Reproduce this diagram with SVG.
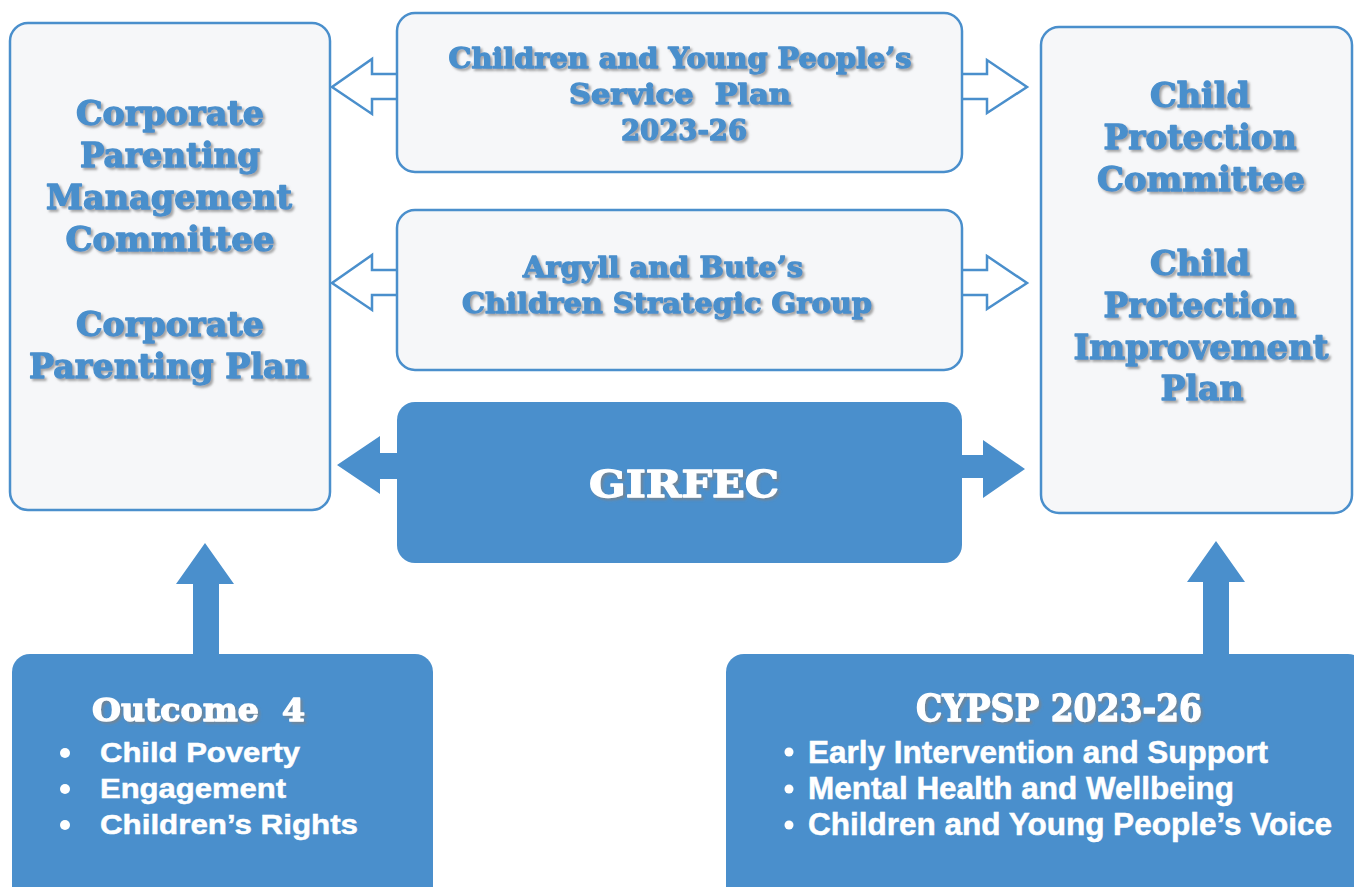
<svg xmlns="http://www.w3.org/2000/svg" width="1354" height="887" viewBox="0 0 1354 887">
<defs>
<filter id="sh" x="-10%" y="-30%" width="120%" height="160%">
<feDropShadow dx="2.2" dy="2.2" stdDeviation="0.8" flood-color="#808080" flood-opacity="0.7"/>
</filter>
<style>
.box{fill:#f6f7f9;stroke:#4a8fcc;stroke-width:2.5}
.fbox{fill:#4a8fcc}
.hol{fill:#ffffff;stroke:#4a8fcc;stroke-width:2.5;stroke-linejoin:miter}
.sol{fill:#4a8fcc}
.t{font-family:"DejaVu Serif","Liberation Serif",serif;font-weight:bold;fill:#4a8fcc;stroke:#4a8fcc;stroke-width:1.3;stroke-linejoin:round;text-anchor:middle;filter:url(#sh)}
.tw{font-family:"DejaVu Serif","Liberation Serif",serif;font-weight:bold;fill:#ffffff;stroke:#ffffff;stroke-width:1.3;stroke-linejoin:round;filter:url(#sh)}
.b{font-family:"Liberation Sans",Arial,sans-serif;font-weight:bold;fill:#ffffff;stroke:#ffffff;stroke-width:0.5}
.dot{fill:#ffffff}
</style>
</defs>
<rect width="1354" height="887" fill="#ffffff"/>

<g id="connectors">
<path class="hol" d="M397,74 L372,74 L372,59 L332,87 L372,114 L372,99 L397,99"/>
<path class="hol" d="M962,74 L987,74 L987,60 L1027,87 L987,113 L987,99 L962,99"/>
<path class="hol" d="M397,270 L372,270 L372,255 L332,283 L372,310 L372,295 L397,295"/>
<path class="hol" d="M962,270 L987,270 L987,256 L1027,283 L987,309 L987,295 L962,295"/>
<polygon class="sol" points="400,453 380,453 380,436 337,465 380,494 380,479 400,479"/>
<polygon class="sol" points="960,455 983,455 983,440 1025,469 983,498 983,478 960,478"/>
<polygon class="sol" points="193,656 193,584 176,584 205,543 234,584 219,584 219,656"/>
<polygon class="sol" points="1203,656 1203,582 1187,582 1216,541 1245,582 1229,582 1229,656"/>
</g>

<g id="corporate-parenting">
<rect class="box" x="10" y="23" width="320" height="487" rx="18"/>
<text class="t" font-size="34" x="170" y="125" textLength="188" lengthAdjust="spacingAndGlyphs">Corporate</text>
<text class="t" font-size="34" x="170" y="167" textLength="180" lengthAdjust="spacingAndGlyphs">Parenting</text>
<text class="t" font-size="34" x="169" y="209" textLength="246" lengthAdjust="spacingAndGlyphs">Management</text>
<text class="t" font-size="34" x="170" y="251" textLength="209" lengthAdjust="spacingAndGlyphs">Committee</text>
<text class="t" font-size="34" x="170" y="336" textLength="188" lengthAdjust="spacingAndGlyphs">Corporate</text>
<text class="t" font-size="34" x="169" y="378" textLength="280" lengthAdjust="spacingAndGlyphs">Parenting Plan</text>
</g>

<g id="cyp-service-plan">
<rect class="box" x="397" y="13" width="565" height="159" rx="18"/>
<text class="t" font-size="27" x="680" y="68" textLength="463" lengthAdjust="spacingAndGlyphs">Children and Young People’s</text>
<text class="t" font-size="27" x="680" y="104" textLength="222" lengthAdjust="spacingAndGlyphs" xml:space="preserve">Service  Plan</text>
<text class="t" font-size="27" x="684" y="140" textLength="126" lengthAdjust="spacingAndGlyphs">2023-26</text>
</g>

<g id="children-strategic-group">
<rect class="box" x="397" y="210" width="565" height="160" rx="18"/>
<text class="t" font-size="28" x="663" y="277" textLength="280" lengthAdjust="spacingAndGlyphs">Argyll and Bute’s</text>
<text class="t" font-size="28" x="667" y="313" textLength="410" lengthAdjust="spacingAndGlyphs">Children Strategic Group</text>
</g>

<g id="girfec">
<rect class="fbox" x="397" y="402" width="565" height="161" rx="18"/>
<text class="tw" font-size="38" x="684" y="497" text-anchor="middle" textLength="190" lengthAdjust="spacingAndGlyphs">GIRFEC</text>
</g>

<g id="child-protection">
<rect class="box" x="1041" y="27" width="311" height="486" rx="18"/>
<text class="t" font-size="34" x="1200" y="107" textLength="100" lengthAdjust="spacingAndGlyphs">Child</text>
<text class="t" font-size="34" x="1200" y="149" textLength="193" lengthAdjust="spacingAndGlyphs">Protection</text>
<text class="t" font-size="34" x="1201" y="191" textLength="208" lengthAdjust="spacingAndGlyphs">Committee</text>
<text class="t" font-size="34" x="1200" y="275" textLength="100" lengthAdjust="spacingAndGlyphs">Child</text>
<text class="t" font-size="34" x="1200" y="317" textLength="193" lengthAdjust="spacingAndGlyphs">Protection</text>
<text class="t" font-size="34" x="1201" y="359" textLength="255" lengthAdjust="spacingAndGlyphs">Improvement</text>
<text class="t" font-size="34" x="1202" y="400" textLength="83" lengthAdjust="spacingAndGlyphs">Plan</text>
</g>

<g id="outcome-4">
<rect class="fbox" x="12" y="654" width="421" height="250" rx="18"/>
<text class="tw" font-size="32" x="92" y="721" textLength="213" lengthAdjust="spacingAndGlyphs" xml:space="preserve">Outcome  4</text>
<circle class="dot" cx="65" cy="753" r="5"/>
<text class="b" font-size="28" x="100" y="762" textLength="200" lengthAdjust="spacingAndGlyphs">Child Poverty</text>
<circle class="dot" cx="65" cy="789" r="5"/>
<text class="b" font-size="28" x="100" y="798" textLength="186" lengthAdjust="spacingAndGlyphs">Engagement</text>
<circle class="dot" cx="65" cy="825" r="5"/>
<text class="b" font-size="28" x="100" y="834" textLength="258" lengthAdjust="spacingAndGlyphs">Children’s Rights</text>
</g>

<g id="cypsp">
<rect class="fbox" x="726" y="654" width="640" height="250" rx="18"/>
<text class="tw" font-size="37" x="916" y="721" textLength="286" lengthAdjust="spacingAndGlyphs">CYPSP 2023-26</text>
<circle class="dot" cx="789" cy="752" r="4.5"/>
<text class="b" font-size="31" x="808" y="763" textLength="460" lengthAdjust="spacingAndGlyphs">Early Intervention and Support</text>
<circle class="dot" cx="789" cy="789" r="4.5"/>
<text class="b" font-size="31" x="808" y="799" textLength="426" lengthAdjust="spacingAndGlyphs">Mental Health and Wellbeing</text>
<circle class="dot" cx="789" cy="825" r="4.5"/>
<text class="b" font-size="31" x="808" y="835" textLength="524" lengthAdjust="spacingAndGlyphs">Children and Young People’s Voice</text>
</g>
</svg>
